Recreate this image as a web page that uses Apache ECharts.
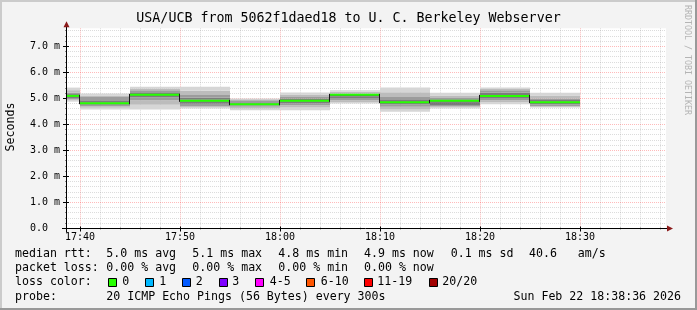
<!DOCTYPE html>
<html><head><meta charset="utf-8">
<script src="https://cdn.jsdelivr.net/npm/echarts@6/dist/echarts.min.js"></script>
<style>html,body{margin:0;padding:0;background:#f3f3f3}#c{width:697px;height:310px}</style>
</head><body><div id="c"></div>
<script>
// ---------- data ----------
const binEnds = ['17:40','17:45','17:50','17:55','18:00','18:05','18:10','18:15','18:20','18:25','18:30'];
const medianRtt = [5.10, 4.82, 5.14, 4.91, 4.78, 4.91, 5.14, 4.86, 4.91, 5.10, 4.86];
// sorted ping spread (ms) per bin, outer -> inner -> outer
const pingSpread = [
  [4.88, 4.93, 4.97, 5.02, 5.07, 5.12, 5.17, 5.23, 5.32, 5.42],
  [4.58, 4.64, 4.70, 4.76, 4.80, 4.85, 4.93, 5.06, 5.12, 5.19],
  [4.58, 4.76, 4.93, 5.04, 5.11, 5.17, 5.24, 5.32, 5.38, 5.45],
  [4.62, 4.66, 4.70, 4.80, 4.88, 4.95, 5.03, 5.13, 5.30, 5.45],
  [4.55, 4.62, 4.68, 4.73, 4.76, 4.80, 4.86, 4.93, 4.97, 5.00],
  [4.55, 4.65, 4.74, 4.82, 4.88, 4.94, 5.00, 5.06, 5.15, 5.23],
  [4.81, 4.87, 4.93, 5.02, 5.09, 5.13, 5.16, 5.19, 5.26, 5.32],
  [4.49, 4.58, 4.68, 4.77, 4.83, 4.89, 4.97, 5.06, 5.24, 5.42],
  [4.62, 4.66, 4.70, 4.75, 4.80, 4.86, 4.94, 5.02, 5.12, 5.22],
  [4.78, 4.86, 4.93, 5.02, 5.08, 5.13, 5.22, 5.32, 5.37, 5.42],
  [4.65, 4.68, 4.70, 4.78, 4.83, 4.88, 4.94, 5.00, 5.12, 5.22]
];
const xMajorLabels = ['17:40','17:50','18:00','18:10','18:20','18:30'];
const yMajorValues = [0, 1, 2, 3, 4, 5, 6, 7];
const viewStart = '17:38:36', viewEnd = '18:38:36';
const stepMinutes = 5;
const statLine1 = ['5.0 ms avg', '5.1 ms max', '4.8 ms min', '4.9 ms now', '0.1 ms sd', '40.6   am/s'];
const statLine2 = ['0.00 % avg', '0.00 % max', '0.00 % min', '0.00 % now'];
const lossLabels = ['0', '1', '2', '3', '4-5', '6-10', '11-19', '20/20'];
const lossColors = ['#26ff00', '#00b8ff', '#0059ff', '#7e00ff', '#ff00ff', '#ff5500', '#ff0000', '#a10000'];

// ---------- helpers ----------
function toMin(s){ const p = s.split(':').map(Number); return p[0]*60 + p[1] + (p[2]||0)/60; }
const xMin = toMin(viewStart), xMax = toMin(viewEnd);
const G = {left: 66, top: 28.3, width: 600, height: 200.2};
const yMax = 7.7;
const FONT = 'DejaVu Sans Mono';
const smokeColors = ['#5c5c5c', '#7c7c7c', '#9c9c9c', '#bcbcbc', '#d6d6d6'];
const medianColor = '#26ff00';

function fmtMin(v){ const h = Math.floor(v/60), m = Math.round(v - h*60); return h + ':' + (m<10?'0':'') + m; }
const majorXSet = xMajorLabels.map(toMin);

// grid line items
const gridItems = [];
for (let m = Math.ceil(xMin/2)*2; m <= xMax; m += 2) {
  gridItems.push([0, m, majorXSet.some(t => Math.abs(t-m) < 1e-6) ? 1 : 0]);
}
for (let k = 1; k * 0.2 < yMax; k++) {
  const v = Math.round(k*2)/10;
  gridItems.push([1, v, yMajorValues.indexOf(v) >= 0 ? 1 : 0]);
}

const binData = binEnds.map((e, i) => [toMin(e) - stepMinutes, toMin(e), medianRtt[i]]);
const snap = v => Math.round(v - 0.5) + 0.5;

const chart = echarts.init(document.getElementById('c'));
const gfx = [];
// border shading
gfx.push({type:'rect', shape:{x:0,y:0,width:697,height:2}, style:{fill:'#cbcbcb'}, silent:true});
gfx.push({type:'rect', shape:{x:0,y:0,width:2,height:310}, style:{fill:'#cbcbcb'}, silent:true});
gfx.push({type:'rect', shape:{x:0,y:308,width:697,height:2}, style:{fill:'#999999'}, silent:true});
gfx.push({type:'rect', shape:{x:695,y:0,width:2,height:310}, style:{fill:'#999999'}, silent:true});
// title
gfx.push({type:'text', x:348.5, y:19, style:{text:'USA/UCB from 5062f1daed18 to U. C. Berkeley Webserver', font:'13.3px "'+FONT+'"', fill:'#000', align:'center', verticalAlign:'middle'}});
// y name
gfx.push({type:'text', x:10.5, y:127, rotation:Math.PI/2, style:{text:'Seconds', font:'11.6px "'+FONT+'"', fill:'#000', align:'center', verticalAlign:'middle'}});
// watermark
gfx.push({type:'text', x:687, y:60, rotation:-Math.PI/2, style:{text:'RRDTOOL / TOBI OETIKER', font:'8.3px "'+FONT+'"', fill:'#b4b4b4', align:'center', verticalAlign:'middle'}});
// axes lines + arrows
const x0px = G.left + 0.5, y0px = G.top + G.height;
gfx.push({type:'line', z:20, shape:{x1:G.left-4, y1:y0px, x2:G.left+G.width+3, y2:y0px}, style:{stroke:'#000', lineWidth:1}});
gfx.push({type:'line', z:20, shape:{x1:x0px, y1:y0px+4, x2:x0px, y2:G.top-2}, style:{stroke:'#000', lineWidth:1}});
gfx.push({type:'polygon', z:21, shape:{points:[[x0px, G.top-7],[x0px-3, G.top-1],[x0px+3, G.top-1]]}, style:{fill:'#8b1a1a'}});
gfx.push({type:'polygon', z:21, shape:{points:[[G.left+G.width+7, y0px],[G.left+G.width+1, y0px-3],[G.left+G.width+1, y0px+3]]}, style:{fill:'#8b1a1a'}});
// legend
const LF = '11.6px "'+FONT+'"';
const rows = [254.3, 268.3, 282.3, 296.6];
const colX = [106.3, 192.3, 278.3, 364, 450.7, 529];
function txt(x, y, t, align){ gfx.push({type:'text', x:x, y:y, style:{text:t, font:LF, fill:'#000', align:align||'left', verticalAlign:'middle'}}); }
txt(15, rows[0], 'median rtt:');
statLine1.forEach((t,i) => txt(colX[i], rows[0], t));
txt(15, rows[1], 'packet loss:');
statLine2.forEach((t,i) => txt(colX[i], rows[1], t));
txt(15, rows[2], 'loss color:');
const boxX = [108.5, 145.5, 182.5, 219.5, 255.5, 306.5, 364.5, 429.5];
const lblX = [122.3, 159.3, 195.7, 232.3, 269.7, 320.7, 377.3, 442.3];
lossLabels.forEach((t,i) => {
  gfx.push({type:'rect', shape:{x:boxX[i], y:278.5, width:8, height:8}, style:{fill:lossColors[i], stroke:'#000', lineWidth:1}});
  txt(lblX[i], rows[2], t);
});
txt(15, rows[3], 'probe:');
txt(106.3, rows[3], '20 ICMP Echo Pings (56 Bytes) every 300s');
txt(681, rows[3], 'Sun Feb 22 18:38:36 2026', 'right');

chart.setOption({
  animation: false,
  backgroundColor: '#f3f3f3',
  grid: Object.assign({show:true, backgroundColor:'#ffffff', borderWidth:0}, G),
  xAxis: {type:'value', min:xMin, max:xMax,
    axisLine:{show:false}, axisTick:{show:false}, splitLine:{show:false},
    axisLabel:{fontFamily:FONT, fontSize:10, color:'#000', margin:4, showMinLabel:false, showMaxLabel:false,
      formatter: v => majorXSet.some(t => Math.abs(t-v) < 1e-6) ? fmtMin(v) : ''}},
  yAxis: {type:'value', min:0, max:yMax, interval:1,
    axisLine:{show:false}, axisTick:{show:false}, splitLine:{show:false},
    axisLabel:{fontFamily:FONT, fontSize:10, color:'#000', margin:6, showMaxLabel:false,
      formatter: v => yMajorValues.indexOf(v) < 0 ? '' : (v === 0 ? '0.0  ' : v.toFixed(1) + ' m')}},
  graphic: {elements: gfx},
  series: [
    { type:'custom', name:'grid', z:1, data: gridItems, silent:true,
      renderItem: (params, api) => {
        const cs = params.coordSys;
        const dir = api.value(0), v = api.value(1), major = api.value(2);
        const color = major ? 'rgba(255,40,40,0.32)' : 'rgba(140,140,140,0.3)';
        const ch = [];
        if (dir === 0) {
          const px = snap(api.coord([v, 0])[0]);
          ch.push({type:'line', shape:{x1:px, y1:cs.y, x2:px, y2:cs.y+cs.height}, style:{stroke:color, lineWidth:1, lineDash:[1,1]}});
          ch.push({type:'line', shape:{x1:px, y1:cs.y+cs.height-(major?2:1), x2:px, y2:cs.y+cs.height+(major?3:1)}, style:{stroke: major ? '#000' : '#888', lineWidth:1}});
        } else {
          const py = snap(api.coord([xMin, v])[1]);
          ch.push({type:'line', shape:{x1:cs.x, y1:py, x2:cs.x+cs.width, y2:py}, style:{stroke:color, lineWidth:1, lineDash:[1,1]}});
          ch.push({type:'line', shape:{x1:cs.x-(major?3:1), y1:py, x2:cs.x+(major?3:1), y2:py}, style:{stroke: major ? '#000' : '#888', lineWidth:1}});
        }
        return {type:'group', children: ch};
      }},
    { type:'custom', name:'smoke', z:2, data: binData, silent:true,
      renderItem: (params, api) => {
        const cs = params.coordSys;
        const xa = Math.max(api.coord([api.value(0), 0])[0], cs.x);
        const xb = api.coord([api.value(1), 0])[0];
        const p = pingSpread[params.dataIndex];
        const mid = (p.length - 2) / 2;
        const ch = [];
        for (let k = 0; k < p.length - 1; k++) {
          const yt = api.coord([0, p[k+1]])[1], yb = api.coord([0, p[k]])[1];
          const d = Math.min(smokeColors.length-1, Math.round(Math.abs(k - mid)));
          ch.push({type:'rect', shape:{x:xa, y:yt, width:xb-xa, height:yb-yt}, style:{fill:smokeColors[d]}});
        }
        return {type:'group', children: ch};
      }},
    { type:'custom', name:'median', z:3, data: binData, silent:true,
      renderItem: (params, api) => {
        const cs = params.coordSys;
        const xa = Math.max(api.coord([api.value(0), 0])[0], cs.x);
        const xb = api.coord([api.value(1), 0])[0];
        const ym = api.coord([0, api.value(2)])[1];
        const ch = [{type:'line', shape:{x1:xa, y1:ym, x2:xb, y2:ym}, style:{stroke:medianColor, lineWidth:2}}];
        const i = params.dataIndex;
        if (i > 0) {
          const yp = api.coord([0, medianRtt[i-1]])[1];
          const vx = Math.round(xa) - 0.5;
          ch.push({type:'line', shape:{x1:vx, y1:Math.min(yp,ym)-1, x2:vx, y2:Math.max(yp,ym)+1}, style:{stroke:'#1a1a1a', lineWidth:1}});
        }
        return {type:'group', children: ch};
      }}
  ]
});
</script></body></html>
